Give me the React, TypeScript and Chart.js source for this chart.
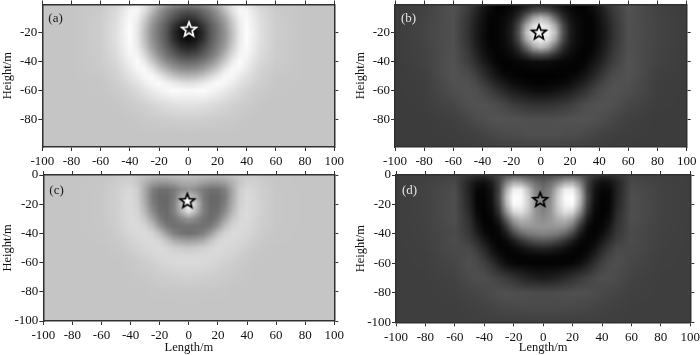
import React, { useEffect, useRef } from "react";
import { Chart, registerables } from "chart.js";

Chart.register(...registerables);

const xNodesHalf = [0, 5, 10, 15, 20, 25, 30, 35, 40, 45, 50, 60, 80, 100];
const yNodes = [0, -5, -10, -15, -20, -25, -30, -35, -40, -45, -50, -55, -60, -70, -80, -90, -100];
const xTicks = [-100, -80, -60, -40, -20, 0, 20, 40, 60, 80, 100];
const yTicksTop = [-20, -40, -60, -80];
const yTicksBottom = [0, -20, -40, -60, -80, -100];

// Grey level by row (depth) and column (|x|).
const fieldA = [
  [130,135,145,160,185,208,228,238,228,218,208,200,197,197],
  [82,88,103,123,150,187,224,247,246,230,217,203,197,197],
  [50,60,82,106,133,165,207,240,248,234,220,204,197,197],
  [20,28,55,90,118,151,195,234,252,237,222,205,197,197],
  [6,14,42,85,115,145,190,232,253,238,223,205,197,197],
  [12,22,48,88,118,148,192,233,252,237,222,205,197,197],
  [35,44,70,98,126,158,201,237,250,235,221,204,197,197],
  [67,74,91,114,141,178,217,243,246,232,218,204,197,197],
  [103,107,121,139,168,202,234,252,240,226,215,203,197,197],
  [138,141,154,175,200,230,248,246,233,220,211,202,197,197],
  [181,185,196,213,233,248,247,236,225,216,207,200,197,197],
  [224,228,235,244,251,246,237,226,218,210,205,198,197,197],
  [249,250,252,247,241,234,225,217,210,205,202,198,197,197],
  [226,225,223,220,216,212,208,205,202,200,198,197,197,197],
  [206,206,205,204,203,202,201,199,198,197,197,197,197,197],
  [197,197,197,197,197,197,197,197,197,197,197,197,197,197],
  [197,197,197,197,197,197,197,197,197,197,197,197,197,197],
];
const fieldB = [
  [30,28,22,12,7,4,5,15,29,47,62,82,66,60],
  [85,75,50,26,12,5,3,9,22,40,58,81,66,60],
  [190,165,105,50,20,9,4,5,18,34,54,80,67,60],
  [238,220,165,75,28,11,4,4,15,31,51,80,68,60],
  [250,238,190,85,30,12,4,3,14,30,50,80,68,60],
  [238,220,165,75,28,11,4,4,15,31,51,80,68,60],
  [190,165,105,50,20,9,4,5,18,34,54,80,67,60],
  [85,75,50,26,12,5,3,9,22,40,58,81,66,60],
  [14,13,10,7,4,3,5,15,29,47,62,82,66,60],
  [5,5,4,3,3,3,11,25,40,56,70,83,64,60],
  [1,1,2,3,6,11,21,34,50,66,76,82,63,60],
  [4,4,6,9,14,24,34,48,62,73,80,80,62,60],
  [12,14,18,23,29,40,50,62,72,79,82,78,62,60],
  [50,51,54,58,62,70,76,80,82,82,79,70,61,60],
  [79,79,80,81,82,83,83,81,78,75,70,63,60,60],
  [80,79,79,77,76,75,73,70,67,64,63,61,60,60],
  [64,64,64,63,63,62,62,61,61,61,60,60,60,60],
];
const fieldC = [
  [195,193,190,188,188,190,195,200,205,204,200,198,197,197],
  [172,170,160,152,152,160,178,198,208,208,204,198,197,197],
  [150,140,122,112,112,128,168,205,216,212,206,199,197,197],
  [195,170,122,104,104,122,168,206,218,214,207,199,197,197],
  [252,195,128,104,106,128,172,208,218,214,207,199,197,197],
  [225,180,128,106,112,140,182,212,218,214,207,199,197,197],
  [150,135,116,108,124,162,198,214,218,213,206,199,197,197],
  [115,114,112,120,150,190,212,218,216,211,205,199,197,197],
  [112,116,128,155,190,212,218,217,214,209,203,198,197,197],
  [158,162,172,195,212,218,217,214,210,205,201,198,197,197],
  [200,202,207,213,218,216,214,210,206,202,199,197,197,197],
  [215,215,215,216,216,213,210,206,202,199,198,197,197,197],
  [218,218,217,215,212,208,205,202,200,198,197,197,197,197],
  [208,207,206,205,204,202,200,199,198,197,197,197,197,197],
  [199,199,198,198,198,198,197,197,197,197,197,197,197,197],
  [197,197,197,197,197,197,197,197,197,197,197,197,197,197],
  [197,197,197,197,197,197,197,197,197,197,197,197,197,197],
];
const fieldD = [
  [70,72,78,84,86,80,68,55,45,46,52,66,64,62],
  [95,110,135,165,170,130,66,30,15,18,35,72,65,62],
  [110,130,190,240,240,172,66,20,6,8,32,76,66,62],
  [115,140,205,250,255,190,72,18,3,5,34,78,66,62],
  [125,145,205,245,250,178,62,14,3,6,36,78,66,62],
  [130,148,195,225,215,145,50,9,2,8,40,78,66,62],
  [140,150,172,182,160,95,28,5,3,14,46,78,66,62],
  [150,150,152,148,115,55,12,3,6,22,50,76,65,62],
  [130,126,118,100,68,26,6,3,12,32,55,74,65,62],
  [82,78,66,48,26,9,3,8,25,45,62,76,64,62],
  [35,32,25,16,8,3,6,18,40,58,72,74,64,62],
  [8,8,6,4,3,5,14,32,52,68,76,72,63,62],
  [2,2,3,4,7,14,28,48,64,74,78,70,63,62],
  [28,30,34,42,50,58,66,73,78,78,75,66,62,62],
  [76,76,77,78,79,80,79,76,72,70,68,64,62,62],
  [74,74,74,73,72,71,70,68,66,65,64,62,62,62],
  [63,63,63,63,63,63,63,63,63,63,62,62,62,62],
];
const starA = { x: 0.5, y: -18 };
const starB = { x: -1.3, y: -20 };
const starC = { x: -1, y: -18 };
const starD = { x: -2, y: -17 };

const FONT = "'Liberation Serif'";
const W = 360;
const H = 355;

type Panel = {
  tag: string; field: number[][]; star: { x: number; y: number };
  left: number; canvasLeft: number; L: number; R: number; T: number; B: number;
  yMax: number; yMin: number; yTicks: number[]; showX: boolean;
  starStroke: string; starFill: string; tagColor: string;
};

const panels: Panel[] = [
  { tag: "(a)", field: fieldA, star: starA, canvasLeft: 0, left: 0, L: 42.3, R: 334.3, T: 4.5, B: 147, yMax: -0.6, yMin: -98.8, yTicks: yTicksTop, showX: false, starStroke: "#ffffff", starFill: "#1a1a1a", tagColor: "#1c1c1c" },
  { tag: "(b)", field: fieldB, star: starB, canvasLeft: 350, left: 350, L: 45, R: 336.7, T: 4.5, B: 147, yMax: -0.6, yMin: -98.8, yTicks: yTicksTop, showX: false, starStroke: "#000000", starFill: "#f5f5f5", tagColor: "#e4e4e4" },
  { tag: "(c)", field: fieldC, star: starC, canvasLeft: 0, left: 0, L: 43.3, R: 334.3, T: 175, B: 321, yMax: 0, yMin: -100, yTicks: yTicksBottom, showX: true, starStroke: "#000000", starFill: "#ffffff", tagColor: "#1c1c1c" },
  { tag: "(d)", field: fieldD, star: starD, canvasLeft: 350, left: 350, L: 46, R: 340.3, T: 175, B: 322.3, yMax: 0, yMin: -100, yTicks: yTicksBottom, showX: true, starStroke: "#000000", starFill: "#8a8a8a", tagColor: "#e4e4e4" },
];

function makeStar(stroke: string, fill: string) {
  const c = document.createElement("canvas");
  c.width = 22; c.height = 22;
  const g = c.getContext("2d")!;
  g.beginPath();
  for (let i = 0; i < 10; i++) {
    const r = i % 2 === 0 ? 7.6 : 3.3;
    const a = -Math.PI / 2 + (i * Math.PI) / 5;
    const px = 11 + r * Math.cos(a), py = 11 + r * Math.sin(a);
    if (i === 0) g.moveTo(px, py); else g.lineTo(px, py);
  }
  g.closePath();
  g.fillStyle = fill; g.fill();
  g.lineWidth = 1.7; g.strokeStyle = stroke; g.lineJoin = "miter"; g.stroke();
  return c;
}

function bracket(nodes: number[], v: number) {
  let i = 0;
  const asc = nodes[1] > nodes[0];
  while (i < nodes.length - 2 && (asc ? v > nodes[i + 1] : v < nodes[i + 1])) i++;
  let t = (v - nodes[i]) / (nodes[i + 1] - nodes[i]);
  t = Math.max(0, Math.min(1, t));
  return { i, t };
}

const fieldPlugin = {
  id: "field",
  beforeDraw(chart: any) {
    const { ctx, chartArea: a, scales } = chart;
    const meta = chart.data.datasets[0] as any;
    const xs: number[] = meta.xNodes;
    const ys: number[] = meta.yNodes;
    const pts = meta.data as { v: number }[];
    const nx = xs.length;
    const x0 = Math.round(a.left), x1 = Math.round(a.right);
    const y0 = Math.round(a.top), y1 = Math.round(a.bottom);
    const w = x1 - x0, h = y1 - y0;
    const off = document.createElement("canvas");
    off.width = w; off.height = h;
    const g = off.getContext("2d")!;
    const img = g.createImageData(w, h);
    for (let py = 0; py < h; py++) {
      const by = bracket(ys, scales.y.getValueForPixel(y0 + py + 0.5));
      for (let px = 0; px < w; px++) {
        const bx = bracket(xs, scales.x.getValueForPixel(x0 + px + 0.5));
        const at = (r: number, c: number) => pts[r * nx + c].v;
        const top = at(by.i, bx.i) * (1 - bx.t) + at(by.i, bx.i + 1) * bx.t;
        const bot = at(by.i + 1, bx.i) * (1 - bx.t) + at(by.i + 1, bx.i + 1) * bx.t;
        const v = top * (1 - by.t) + bot * by.t;
        const k = (py * w + px) * 4;
        img.data[k] = v; img.data[k + 1] = v; img.data[k + 2] = v; img.data[k + 3] = 255;
      }
    }
    g.putImageData(img, 0, 0);
    ctx.drawImage(off, x0, y0);
  },
  afterDraw(chart: any) {
    const { ctx, chartArea: a } = chart;
    const o = chart.options.plugins.panelTag;
    ctx.save();
    ctx.font = `13px ${FONT}`;
    ctx.fillStyle = o.color;
    ctx.textAlign = "left";
    ctx.textBaseline = "middle";
    ctx.fillText(o.text, a.left + 6, a.top + (o.dy as number));
    ctx.restore();
  },
};

function buildChart(canvas: HTMLCanvasElement, p: Panel) {
  const xNodes = [...xNodesHalf.slice(1).reverse().map((v) => -v), ...xNodesHalf];
  const cells: { x: number; y: number; v: number }[] = [];
  p.field.forEach((row, r) => {
    const full = [...row.slice(1).reverse(), ...row];
    full.forEach((v, c) => cells.push({ x: xNodes[c], y: yNodes[r], v }));
  });
  const frame = "#303030";
  const grid = { drawOnChartArea: false, drawTicks: true, tickLength: 4, color: frame, lineWidth: 1 };
  const border = { display: true, color: frame, width: 1.5, z: 1 };
  const font = { family: FONT, size: 13 };
  const setX = (s: any) => { s.ticks = xTicks.map((value) => ({ value })); };
  const setY = (s: any) => { s.ticks = p.yTicks.map((value) => ({ value })); };
  const noPad = (s: any) => { s.paddingTop = 0; s.paddingBottom = 0; s.paddingLeft = 0; s.paddingRight = 0; };
  return new Chart(canvas, {
    type: "scatter",
    data: {
      datasets: [
        { label: "field", data: cells, pointRadius: 0, xNodes, yNodes } as any,
        { label: "source", data: [p.star], pointStyle: makeStar(p.starStroke, p.starFill), pointRadius: 8 } as any,
      ],
    },
    plugins: [fieldPlugin as any],
    options: {
      responsive: false,
      animation: false,
      events: [],
      layout: { autoPadding: false, padding: { left: 0, top: p.T, right: W - p.R, bottom: 0 } },
      plugins: {
        legend: { display: false },
        tooltip: { enabled: false },
        panelTag: { text: p.tag, color: p.tagColor, dy: p.showX ? 15.5 : 14.5 },
      } as any,
      scales: {
        x: {
          type: "linear", position: "bottom", min: -100, max: 100,
          afterBuildTicks: setX,
          afterFit: (s: any) => { s.height = H - p.B; noPad(s); },
          grid, border,
          ticks: { color: "#111", font, padding: 3, maxRotation: 0, autoSkip: false, callback: (v: any) => String(v) },
          title: { display: p.showX, text: "Length/m", color: "#111", font: { family: FONT, size: 12.5 }, padding: 0 },
        },
        y: {
          type: "linear", position: "left", min: p.yMin, max: p.yMax,
          afterBuildTicks: setY,
          afterFit: (s: any) => { s.width = p.L; noPad(s); },
          grid, border,
          ticks: { color: "#111", font, padding: 1, autoSkip: false, callback: (v: any) => String(v) },
          title: { display: true, text: "Height/m", color: "#111", font: { family: FONT, size: 12.5 }, padding: { top: p.left ? 3 : 0, bottom: 0 } },
        },
        x2: {
          type: "linear", position: "top", min: -100, max: 100,
          afterBuildTicks: setX,
          afterFit: (s: any) => { s.height = 0; noPad(s); },
          grid, border,
          ticks: { display: false },
        },
        y2: {
          type: "linear", position: "right", min: p.yMin, max: p.yMax,
          afterBuildTicks: setY,
          afterFit: (s: any) => { s.width = 0; noPad(s); },
          grid, border,
          ticks: { display: false },
        },
      },
    } as any,
  });
}

export default function App() {
  const refs = useRef<(HTMLCanvasElement | null)[]>([]);
  useEffect(() => {
    const charts = panels.map((p, i) => buildChart(refs.current[i]!, p));
    return () => charts.forEach((c) => c.destroy());
  }, []);
  return (
    <div style={{ position: "absolute", left: 0, top: 0, width: 700, height: 355, overflow: "hidden", background: "#fff" }}>
      {panels.map((p, i) => (
        <canvas
          key={p.tag}
          ref={(el) => { refs.current[i] = el; }}
          width={W}
          height={H}
          style={{ position: "absolute", left: p.canvasLeft, top: 0, width: W, height: H, display: "block" }}
        />
      ))}
    </div>
  );
}
